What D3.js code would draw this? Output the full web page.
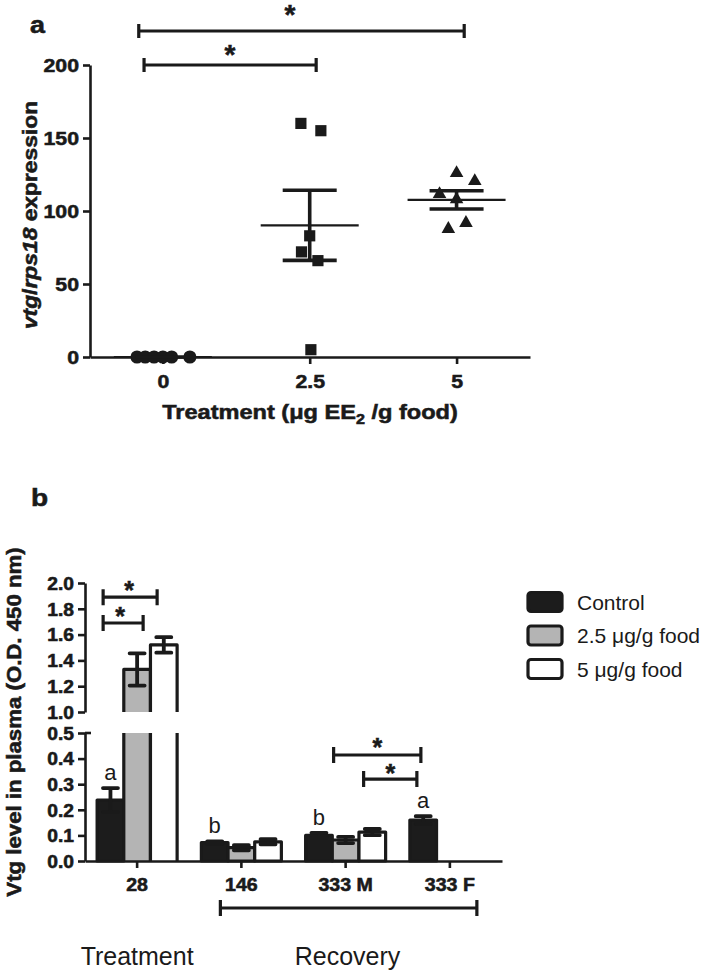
<!DOCTYPE html>
<html>
<head>
<meta charset="utf-8">
<script src="https://cdn.jsdelivr.net/npm/d3@7"></script>
<style>
  body { margin: 0; background: #fff; }
  svg text { font-family: "Liberation Sans", Arial, sans-serif; fill: #1a1a1a; }
  svg text.heavy { stroke: #1a1a1a; stroke-width: 0.55px; }
</style>
</head>
<body>
<script>
// panel a - vtg/rps18 expression per dose
const doses = [0, 2.5, 5];
const dose0Values = [0, 0, 0, 0, 0, 0];
const dose25Values = [160, 155, 83, 72, 66, 5];
const dose5Values = [126, 120.5, 111.6, 108, 87.7, 91.8];
const yTicksA = [0, 50, 100, 150, 200];

// panel b - plasma Vtg (mean, SEM)
const groups = ["28", "146", "333 M", "333 F"];
const series = ["Control", "2.5 μg/g food", "5 μg/g food"];
const controlMean = [0.238, 0.072, 0.1, 0.16];
const controlSem = [0.047, 0.005, 0.01, 0.015];
const lowMean = [1.33, 0.052, 0.082, null];
const lowSem = [0.125, 0.01, 0.012, null];
const highMean = [1.52, 0.075, 0.113, null];
const highSem = [0.06, 0.01, 0.012, null];
const yTicksTop = [1.0, 1.2, 1.4, 1.6, 1.8, 2.0];
const yTicksBottom = [0.0, 0.1, 0.2, 0.3, 0.4, 0.5];

const INK = "#1a1a1a";
const SX = 1.17; // bold lettering in the figure is wider than Arial Bold

const svg = d3.select("body").append("svg")
    .attr("width", 712)
    .attr("height", 972);

function txt(g, x, y, str, o) {
    o = o || {};
    let tr = `translate(${x},${y})`;
    if (o.rot) tr += ` rotate(${o.rot})`;
    if (o.sx) tr += ` scale(${o.sx},1)`;
    return g.append("text")
        .attr("class", o.bold ? "heavy" : null)
        .attr("transform", tr)
        .attr("text-anchor", o.anchor || "middle")
        .attr("font-size", o.size || 16)
        .attr("font-weight", o.bold ? "bold" : "normal")
        .text(str);
}

function styleAxis(g) {
    g.select(".domain").attr("stroke", INK).attr("stroke-width", 2.6);
    g.selectAll(".tick line").attr("stroke", INK).attr("stroke-width", 2.6);
    g.selectAll("text")
        .attr("class", "heavy")
        .attr("fill", INK)
        .attr("font-weight", "bold")
        .attr("font-family", "'Liberation Sans', Arial, sans-serif");
}

function bracket(g, x1, x2, y, h) {
    g.append("path")
        .attr("d", `M${x1},${y - h}V${y + h}M${x1},${y}H${x2}M${x2},${y - h}V${y + h}`)
        .attr("fill", "none")
        .attr("stroke", INK)
        .attr("stroke-width", 3.2);
}

function star(g, x, y, size) {
    // y = vertical centre of the asterisk
    txt(g, x, y + size * 0.52, "*", { size: size, bold: true });
}

// ---------------- panel a ----------------
const gA = svg.append("g");
const xA = d3.scaleLinear().domain([-1.24, 6.25]).range([90, 530]);
const yA = d3.scaleLinear().domain([0, 200]).range([357, 65]);

// horizontal spread of the dots around each dose (dose units)
const spread = [
    [-0.44, -0.3, -0.15, 0, 0.15, 0.46],
    [-0.15, 0.19, 0, -0.14, 0.14, 0.02],
    [0, 0.31, -0.29, 0, -0.14, 0.16]
];
const groupValues = [dose0Values, dose25Values, dose5Values];
const shapes = [d3.symbolCircle, d3.symbolSquare, d3.symbolTriangle];
const shapeSize = [135, 125, 80];

const axA_y = gA.append("g")
    .attr("transform", `translate(${xA.range()[0]},0)`)
    .call(d3.axisLeft(yA).tickValues(yTicksA).tickSize(7).tickSizeOuter(0));
styleAxis(axA_y);
axA_y.selectAll("text")
    .attr("x", null).attr("dy", "0.36em")
    .attr("font-size", 19)
    .attr("transform", `translate(-11,0) scale(1.12,1)`);

const axA_x = gA.append("g")
    .attr("transform", `translate(0,${yA(0)})`)
    .call(d3.axisBottom(xA).tickValues(doses).tickFormat(d => d).tickSize(7).tickSizeOuter(0));
styleAxis(axA_x);
axA_x.selectAll("text")
    .attr("y", null).attr("dy", null)
    .attr("font-size", 19)
    .attr("transform", `translate(0,31) scale(1.12,1)`);

groupValues.forEach((vals, i) => {
    const dose = doses[i];
    gA.append("g").selectAll("path")
        .data(vals)
        .enter().append("path")
        .attr("d", d3.symbol(shapes[i], shapeSize[i]))
        .attr("transform", (d, j) => `translate(${xA(dose + spread[i][j])},${yA(d)})`)
        .attr("fill", INK);

    const m = d3.mean(vals);
    const se = d3.deviation(vals) ? d3.deviation(vals) / Math.sqrt(vals.length) : 0;
    const cx = xA(dose);
    gA.append("line")
        .attr("x1", cx - 49).attr("x2", cx + 49)
        .attr("y1", yA(m)).attr("y2", yA(m))
        .attr("stroke", INK).attr("stroke-width", 2.2);
    gA.append("path")
        .attr("d", `M${cx},${yA(m - se)}V${yA(m + se)}` +
            `M${cx - 27},${yA(m + se)}H${cx + 27}M${cx - 27},${yA(m - se)}H${cx + 27}`)
        .attr("fill", "none")
        .attr("stroke", INK).attr("stroke-width", 3.6);
});

bracket(gA, xA(-0.41), xA(5.13), 31, 7);
star(gA, 290, 9, 28);
bracket(gA, xA(-0.32), xA(2.61), 65, 7);
star(gA, 230, 49, 28);

txt(gA, 30, 33, "a", { size: 23, bold: true, anchor: "start", sx: SX });

const yTitleA = txt(gA, 37, 215, "", { size: 19.5, bold: true, rot: -90, sx: SX });
yTitleA.append("tspan").attr("font-style", "italic").text("vtg");
yTitleA.append("tspan").text("/");
yTitleA.append("tspan").attr("font-style", "italic").text("rps18");
yTitleA.append("tspan").text(" expression");

const xTitleA = txt(gA, 310, 419, "", { size: 20.5, bold: true, sx: 1.15 });
xTitleA.append("tspan").text("Treatment (μg EE");
xTitleA.append("tspan").attr("font-size", 14).attr("dy", 5).text("2");
xTitleA.append("tspan").attr("dy", -5).text(" /g food)");

// ---------------- panel b ----------------
const gB = svg.append("g");
const xB = d3.scaleBand().domain(groups).range([85, 502]).padding(0);
const xS = d3.scaleBand().domain(series).range([-40, 40]);
const yT = d3.scaleLinear().domain([1, 2]).range([712, 583]);
const yB = d3.scaleLinear().domain([0, 0.5]).range([861, 733]);
const fills = ["#1c1c1c", "#b4b4b4", "#ffffff"];
const means = [controlMean, lowMean, highMean];
const sems = [controlSem, lowSem, highSem];

function yVal(v) { return v > 0.75 ? yT(v) : yB(v); }
function gc(g) { return xB(g) + xB.bandwidth() / 2; }

const axB_top = gB.append("g")
    .attr("transform", `translate(85,0)`)
    .call(d3.axisLeft(yT).tickValues(yTicksTop).tickFormat(d3.format(".1f")).tickSize(7).tickSizeOuter(0));
styleAxis(axB_top);
const axB_bot = gB.append("g")
    .attr("transform", `translate(85,0)`)
    .call(d3.axisLeft(yB).tickValues(yTicksBottom).tickFormat(d3.format(".1f")).tickSize(7).tickSizeOuter(0));
styleAxis(axB_bot);
[axB_top, axB_bot].forEach(ax => ax.selectAll("text")
    .attr("x", null).attr("dy", "0.36em")
    .attr("font-size", 17.5)
    .attr("transform", `translate(-11,0) scale(1.1,1)`));
// small cap where the lower segment starts
gB.append("line")
    .attr("x1", 85).attr("x2", 91).attr("y1", yB(0.5)).attr("y2", yB(0.5))
    .attr("stroke", INK).attr("stroke-width", 2.6);

series.forEach((s, si) => {
    groups.forEach((g, gi) => {
        const m = means[si][gi];
        if (m == null) return;
        const se = sems[si][gi];
        const x0 = gc(g) + xS(s);
        const x1 = x0 + xS.bandwidth();
        const bar = gB.append("g");
        if (m <= 0.5) {
            bar.append("rect")
                .attr("x", x0).attr("y", yB(m))
                .attr("width", x1 - x0).attr("height", yB(0) - yB(m))
                .attr("fill", fills[si])
                .attr("stroke", INK).attr("stroke-width", 3.2)
                .attr("stroke-linejoin", "round");
        } else {
            bar.append("rect")
                .attr("x", x0).attr("y", yB(0.5))
                .attr("width", x1 - x0).attr("height", yB(0) - yB(0.5))
                .attr("fill", fills[si]);
            bar.append("path")
                .attr("d", `M${x0},${yB(0.5)}V${yB(0)}M${x1},${yB(0.5)}V${yB(0)}`)
                .attr("stroke", INK).attr("stroke-width", 3.2);
            bar.append("rect")
                .attr("x", x0).attr("y", yT(m))
                .attr("width", x1 - x0).attr("height", yT(1) - yT(m))
                .attr("fill", fills[si]);
            bar.append("path")
                .attr("d", `M${x0},${yT(1)}V${yT(m)}H${x1}V${yT(1)}`)
                .attr("fill", "none")
                .attr("stroke", INK).attr("stroke-width", 3.2)
                .attr("stroke-linejoin", "round");
        }
        const cx = (x0 + x1) / 2;
        bar.append("path")
            .attr("d", `M${cx},${yVal(m - se)}V${yVal(m + se)}` +
                `M${cx - 7.5},${yVal(m + se)}H${cx + 7.5}M${cx - 7.5},${yVal(m - se)}H${cx + 7.5}`)
            .attr("fill", "none")
            .attr("stroke", INK).attr("stroke-width", 3.8)
            .attr("stroke-linecap", "round");
    });
});

const axB_x = gB.append("g")
    .attr("transform", `translate(0,${yB(0)})`)
    .call(d3.axisBottom(xB).tickSize(7).tickSizeOuter(0));
styleAxis(axB_x);
axB_x.selectAll("text")
    .attr("y", null).attr("dy", null)
    .attr("font-size", 17.5)
    .attr("transform", `translate(0,30) scale(1.12,1)`);

// group letters over control bars
const letters = ["a", "b", "b", "a"];
groups.forEach((g, gi) => {
    const cx = gc(g) + xS("Control") + xS.bandwidth() / 2;
    const top = controlMean[gi] + controlSem[gi];
    txt(gB, cx, yB(top) - 8, letters[gi], { size: 22 });
});

// significance
bracket(gB, gc("28") - 34, gc("28") + 20, yT(1.89), 8);
star(gB, gc("28") - 8, yT(1.89) - 11, 25);
bracket(gB, gc("28") - 34, gc("28") + 6, yT(1.69), 8);
star(gB, gc("28") - 17, yT(1.69) - 11, 25);
bracket(gB, gc("333 M") - 12, gc("333 F") - 29, yB(0.414), 8);
star(gB, (gc("333 M") - 12 + gc("333 F") - 29) / 2, yB(0.414) - 12, 25);
bracket(gB, gc("333 M") + 18, gc("333 F") - 33, yB(0.32), 8);
star(gB, (gc("333 M") + 18 + gc("333 F") - 33) / 2, yB(0.32) - 10, 25);

// phase bracket
bracket(gB, gc("146") - 21, gc("333 F") + 27, 908, 8);
txt(gB, gc("28"), 965, "Treatment", { size: 25 });
txt(gB, (gc("146") + gc("333 M")) / 2 + 54, 965, "Recovery", { size: 25 });

txt(gB, 31, 506, "b", { size: 24, bold: true, anchor: "start", sx: SX });
txt(gB, 21, 722, "Vtg level in plasma (O.D. 450 nm)", { size: 19.5, bold: true, rot: -90, sx: 1.14 });

// legend
const legend = gB.append("g").attr("transform", "translate(528,602)");
series.forEach((s, i) => {
    const row = legend.append("g").attr("transform", `translate(0,${i * 33.5})`);
    row.append("rect")
        .attr("x", 0).attr("y", -9.5)
        .attr("width", 34).attr("height", 19)
        .attr("rx", 3)
        .attr("fill", fills[i])
        .attr("stroke", INK).attr("stroke-width", 3.2);
    txt(row, 49, 7.5, s, { size: 21, anchor: "start" });
});
</script>
</body>
</html>
